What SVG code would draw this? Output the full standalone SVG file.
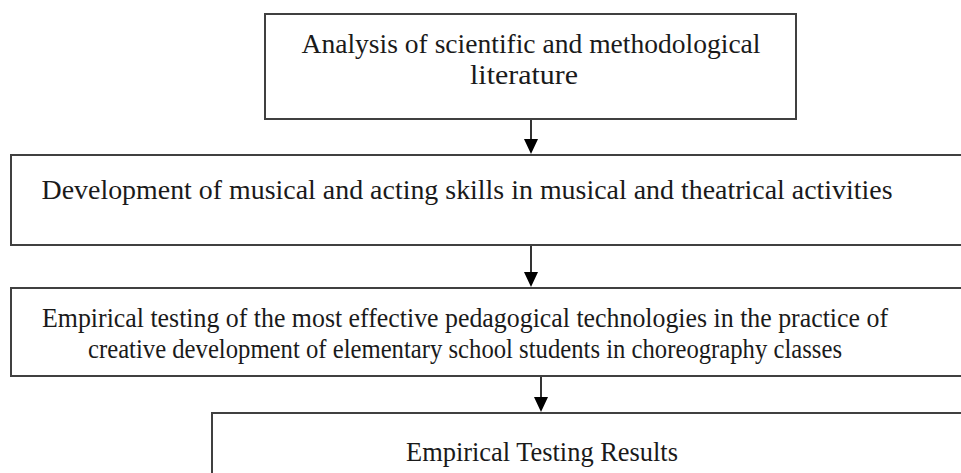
<svg xmlns="http://www.w3.org/2000/svg" width="961" height="473" viewBox="0 0 961 473">
  <style>
    .box { fill: #ffffff; stroke: #404040; stroke-width: 2; }
    .lbl { font-family: "Liberation Serif", "Times New Roman", serif; font-size: 27px; fill: #1a1a1a; text-anchor: middle; }
    .conn { stroke: #000000; stroke-width: 1.6; fill: none; }
    .head { fill: #000000; }
  </style>
  <rect width="961" height="473" fill="#ffffff"/>

  <g id="node-analysis">
    <rect class="box" x="265" y="14" width="531" height="105"/>
    <text class="lbl" x="531" y="53" textLength="459" lengthAdjust="spacingAndGlyphs">Analysis of scientific and methodological</text>
    <text class="lbl" x="524" y="84" textLength="108" lengthAdjust="spacingAndGlyphs">literature</text>
  </g>

  <g id="node-development">
    <rect class="box" x="11" y="155" width="970" height="90"/>
    <text class="lbl" x="467" y="199" textLength="851" lengthAdjust="spacingAndGlyphs">Development of musical and acting skills in musical and theatrical activities</text>
  </g>

  <g id="node-empirical">
    <rect class="box" x="11" y="288" width="970" height="88"/>
    <text class="lbl" x="465" y="327" textLength="846" lengthAdjust="spacingAndGlyphs">Empirical testing of the most effective pedagogical technologies in the practice of</text>
    <text class="lbl" x="465" y="358" textLength="754" lengthAdjust="spacingAndGlyphs">creative development of elementary school students in choreography classes</text>
  </g>

  <g id="node-results">
    <rect class="box" x="212" y="413" width="780" height="80"/>
    <text class="lbl" x="542" y="461" textLength="272" lengthAdjust="spacingAndGlyphs">Empirical Testing Results</text>
  </g>

  <g id="connectors">
    <path class="conn" d="M531,120 V140"/>
    <path class="head" d="M524,139 L538,139 L531,154 Z"/>
    <path class="conn" d="M531,246 V273"/>
    <path class="head" d="M524,272 L538,272 L531,287 Z"/>
    <path class="conn" d="M541,377 V398"/>
    <path class="head" d="M534,397 L548,397 L541,412 Z"/>
  </g>
</svg>
